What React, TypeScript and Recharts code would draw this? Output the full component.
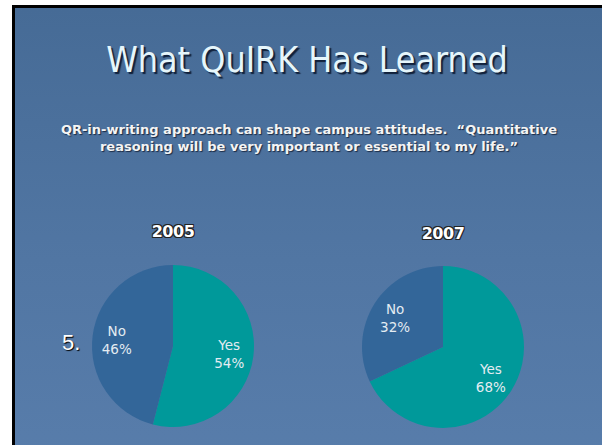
import React from "react";
import { PieChart, Pie, Cell } from "recharts";

const titleText = "What QuIRK Has Learned";
const subtitleLines = [
  "QR-in-writing approach can shape campus attitudes.  \u201CQuantitative",
  "reasoning will be very important or essential to my life.\u201D",
];
const questionNumber = "5.";
const years = ["2005", "2007"];
const categories = ["Yes", "No"];
const values2005 = [54, 46];
const values2007 = [68, 32];
const sliceColors = ["#00999a", "#336699"];

const data2005 = categories.map((c, i) => ({ name: c, value: values2005[i] }));
const data2007 = categories.map((c, i) => ({ name: c, value: values2007[i] }));

const RAD = Math.PI / 180;

const renderLabel = (props: any) => {
  const { cx, cy, midAngle, outerRadius, name, value } = props;
  const r = outerRadius * 0.7;
  const x = cx + r * Math.cos(-midAngle * RAD);
  const y = cy + r * Math.sin(-midAngle * RAD);
  return (
    <text
      x={x}
      y={y}
      textAnchor="middle"
      fill="#e4ecf2"
      fontFamily="'DejaVu Sans', sans-serif"
      fontSize={13.5}
    >
      <tspan x={x} dy={-3}>{name}</tspan>
      <tspan x={x} dy={18}>{`${value}%`}</tspan>
    </text>
  );
};

const yearStyle: React.CSSProperties = {
  position: "absolute",
  width: 80,
  textAlign: "center",
  fontFamily: "'DejaVu Sans', sans-serif",
  fontWeight: 900,
  fontSize: 16,
  color: "#ffffff",
  textShadow: "1px 1px 0 #222, -1px -1px 0 #222, 1px -1px 0 #222, -1px 1px 0 #222",
  letterSpacing: -0.5,
};

export default function App() {
  return (
    <div
      style={{
        position: "fixed",
        left: 0,
        top: 0,
        width: 602,
        height: 445,
        background: "#ffffff",
        overflow: "hidden",
      }}
    >
      <div
        style={{
          position: "absolute",
          left: 12,
          top: 5,
          width: 600,
          height: 460,
          boxSizing: "border-box",
          borderLeft: "3px solid #000",
          borderTop: "3px solid #000",
          borderRight: "3px solid #000",
          background: "linear-gradient(to bottom, #466b96 0%, #5176a3 55%, #587dab 100%)",
        }}
      />
      <div
        style={{
          position: "absolute",
          left: 0,
          width: 614,
          top: 39,
          textAlign: "center",
          fontFamily: "'DejaVu Sans Condensed', 'DejaVu Sans', sans-serif",
          fontSize: 35.5,
          color: "#e6f6fb",
          textShadow: "2px 2px 1px #10203a",
          whiteSpace: "nowrap",
        }}
      >
        {titleText}
      </div>
      <div
        style={{
          position: "absolute",
          left: 0,
          width: 618,
          top: 121,
          textAlign: "center",
          fontFamily: "'DejaVu Sans', sans-serif",
          fontWeight: "bold",
          fontSize: 13,
          lineHeight: "17px",
          color: "#f4f4f4",
          textShadow: "1px 1px 1px #1a2a44",
          whiteSpace: "pre",
        }}
      >
        {subtitleLines.join("\n")}
      </div>
      <div style={{ ...yearStyle, left: 133, top: 222 }}>{years[0]}</div>
      <div style={{ ...yearStyle, left: 403, top: 224 }}>{years[1]}</div>
      <div
        style={{
          position: "absolute",
          left: 62,
          top: 330,
          fontFamily: "'Liberation Sans', sans-serif",
          fontSize: 22,
          color: "#ffffff",
          textShadow: "1px 1px 1px #000",
        }}
      >
        {questionNumber}
      </div>
      <div style={{ position: "absolute", left: 0, top: 0 }}>
        <PieChart width={602} height={445} margin={{ top: 0, right: 0, bottom: 0, left: 0 }}>
          <Pie
            data={data2005}
            dataKey="value"
            nameKey="name"
            cx={173}
            cy={346}
            outerRadius={81}
            startAngle={90}
            endAngle={-270}
            stroke="none"
            label={renderLabel}
            labelLine={false}
            isAnimationActive={false}
          >
            {data2005.map((d, i) => (
              <Cell key={d.name} fill={sliceColors[i]} />
            ))}
          </Pie>
          <Pie
            data={data2007}
            dataKey="value"
            nameKey="name"
            cx={443}
            cy={347}
            outerRadius={81}
            startAngle={90}
            endAngle={-270}
            stroke="none"
            label={renderLabel}
            labelLine={false}
            isAnimationActive={false}
          >
            {data2007.map((d, i) => (
              <Cell key={d.name} fill={sliceColors[i]} />
            ))}
          </Pie>
        </PieChart>
      </div>
    </div>
  );
}
